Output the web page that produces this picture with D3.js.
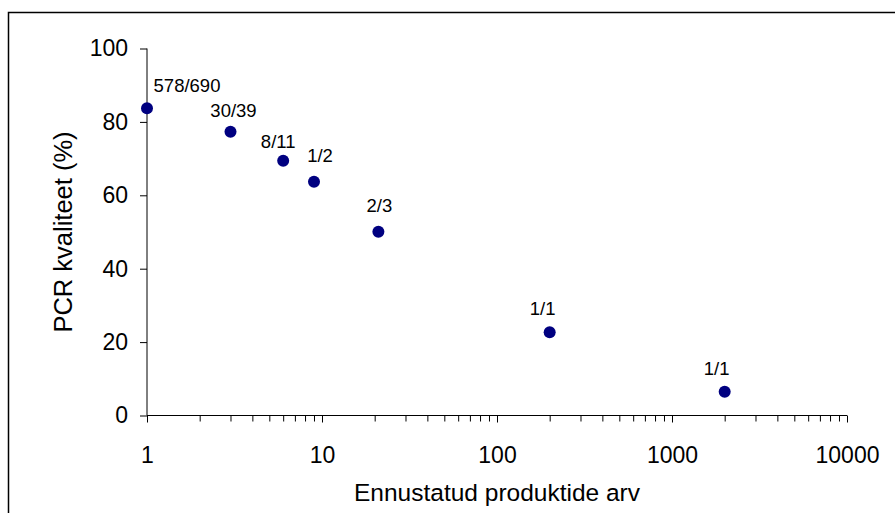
<!DOCTYPE html>
<html><head><meta charset="utf-8">
<script src="https://cdn.jsdelivr.net/npm/d3@7"></script>
<style>body{margin:0;background:#fff}svg{display:block}text{font-family:"Liberation Sans",Arial,sans-serif;fill:#000}</style>
</head><body>
<svg id="c" width="895" height="513"></svg>
<script>
const xValues = [1, 3, 6, 9, 21, 200, 2000];
const yValues = [83.7, 77.3, 69.4, 63.7, 50.1, 22.7, 6.5];
const pointLabels = ["578/690", "30/39", "8/11", "1/2", "2/3", "1/1", "1/1"];
const yTicks = [0, 20, 40, 60, 80, 100];
const xMajorTicks = [1, 10, 100, 1000, 10000];
const xTitle = "Ennustatud produktide arv";
const yTitle = "PCR kvaliteet (%)";
// label placement offsets (px), styling only
const labelDx = [40, 3, -5, 6, 1, -7, -8];
const labelDy = [-16, -15, -13, -20, -20, -17, -17];

const svg = d3.select("#c");
svg.append("rect").attr("x", 8.5).attr("y", 12.5).attr("width", 1000).attr("height", 1000)
  .attr("fill", "none").attr("stroke", "#000").attr("stroke-width", 1.5);

const x = d3.scaleLog().domain([1, 10000]).range([147, 847]);
const y = d3.scaleLinear().domain([0, 100]).range([415.5, 48.5]);

const minor = [];
for (let d = 1; d < 10000; d *= 10) for (let k = 2; k <= 9; k++) minor.push(d * k);

const gxMinor = svg.append("g").attr("transform", "translate(0,415.5)")
  .call(d3.axisBottom(x).tickValues(minor).tickSize(6).tickFormat(""));
gxMinor.select(".domain").remove();
const gx = svg.append("g").attr("transform", "translate(0,415.5)")
  .call(d3.axisBottom(x).tickValues(xMajorTicks).tickSize(7).tickPadding(12).tickFormat(d3.format("d")));
gx.selectAll("text").attr("font-size", 23).attr("dy", 0).attr("y", 47);
svg.selectAll(".domain").attr("stroke", "#000");
gx.select(".domain").attr("d", "M147,0H847");

const gy = svg.append("g").attr("transform", "translate(147,0)")
  .call(d3.axisLeft(y).tickValues(yTicks).tickSize(7).tickPadding(12));
gy.selectAll("text").attr("font-size", 23);
gy.select(".domain").attr("d", "M0,48.5V415.5");
svg.selectAll(".tick line").attr("stroke", "#000");

svg.append("g").selectAll("circle").data(xValues).join("circle")
  .attr("cx", d => x(d)).attr("cy", (d, i) => y(yValues[i])).attr("r", 6).attr("fill", "#000080");

svg.append("g").selectAll("text").data(pointLabels).join("text")
  .attr("x", (d, i) => x(xValues[i]) + labelDx[i])
  .attr("y", (d, i) => y(yValues[i]) + labelDy[i])
  .attr("text-anchor", "middle").attr("font-size", 18.5).text(d => d);

svg.append("text").attr("x", 497).attr("y", 501).attr("text-anchor", "middle")
  .attr("font-size", 24.5).text(xTitle);
svg.append("text").attr("transform", "translate(72,232) rotate(-90)").attr("text-anchor", "middle")
  .attr("font-size", 25.5).text(yTitle);
</script>
</body></html>
